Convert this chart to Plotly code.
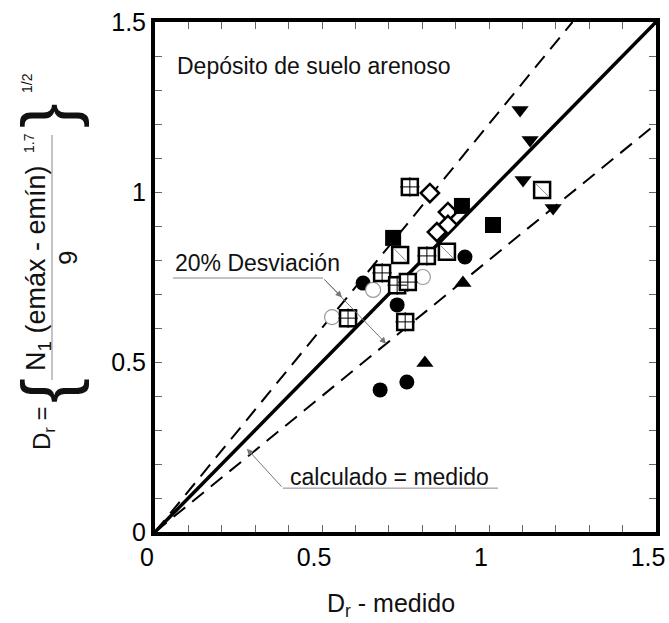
import plotly.graph_objects as go

# ---- measured vs. calculated relative density (Dr) ----
grid_sq_x = [0.763, 0.814, 0.680, 0.725, 0.757, 0.749, 0.578]
grid_sq_y = [1.015, 0.812, 0.762, 0.726, 0.735, 0.618, 0.629]

slash_sq_x = [0.734, 0.874, 1.159]
slash_sq_y = [0.815, 0.824, 1.006]

diamond_x = [0.823, 0.877, 0.877, 0.844]
diamond_y = [0.997, 0.941, 0.903, 0.882]

filled_sq_x = [0.919, 0.713, 1.012]
filled_sq_y = [0.959, 0.865, 0.903]

open_circ_x = [0.653, 0.802, 0.530]
open_circ_y = [0.712, 0.750, 0.632]

filled_circ_x = [0.928, 0.623, 0.725, 0.754, 0.674]
filled_circ_y = [0.809, 0.732, 0.668, 0.441, 0.418]

tri_up_x = [0.922, 0.808]
tri_up_y = [0.732, 0.497]

tri_down_x = [1.093, 1.123, 1.102, 1.192]
tri_down_y = [1.241, 1.153, 1.035, 0.953]

# reference lines: calculated = measured, and +/-20 % deviation
line_x = [0.0, 1.5]
line_y = [0.0, 1.5]
upper_x = [0.0, 1.25]
upper_y = [0.0, 1.5]
lower_x = [0.0, 1.5]
lower_y = [0.0, 1.2]

FONT = "Liberation Sans, Arial, sans-serif"

fig = go.Figure()

fig.add_trace(go.Scatter(x=upper_x, y=upper_y, mode="lines",
                         line=dict(color="black", width=2, dash="15px,9px")))
fig.add_trace(go.Scatter(x=lower_x, y=lower_y, mode="lines",
                         line=dict(color="black", width=2, dash="15px,9px")))
fig.add_trace(go.Scatter(x=line_x, y=line_y, mode="lines",
                         line=dict(color="black", width=3.5)))

fig.add_trace(go.Scatter(x=filled_circ_x, y=filled_circ_y, mode="markers",
                         marker=dict(symbol="circle", size=15, color="black",
                                     line=dict(width=0))))
fig.add_trace(go.Scatter(x=open_circ_x, y=open_circ_y, mode="markers",
                         marker=dict(symbol="circle", size=15, color="white",
                                     line=dict(width=1.2, color="#999999"))))
# hatched squares: white square with a thin cross inside
fig.add_trace(go.Scatter(x=grid_sq_x, y=grid_sq_y, mode="markers",
                         marker=dict(symbol="square", size=16, color="white",
                                     line=dict(width=2.5, color="black"))))
fig.add_trace(go.Scatter(x=grid_sq_x, y=grid_sq_y, mode="markers",
                         marker=dict(symbol="cross-thin", size=14, color="black",
                                     line=dict(width=1, color="black"))))
# squares with a single diagonal
fig.add_trace(go.Scatter(x=slash_sq_x, y=slash_sq_y, mode="markers",
                         marker=dict(symbol="square", size=16, color="white",
                                     line=dict(width=2.5, color="black"))))
fig.add_trace(go.Scatter(x=slash_sq_x, y=slash_sq_y, mode="markers",
                         marker=dict(symbol="line-nw", size=13, color="#888888",
                                     line=dict(width=1, color="#888888"))))
fig.add_trace(go.Scatter(x=diamond_x, y=diamond_y, mode="markers",
                         marker=dict(symbol="diamond", size=14, color="white",
                                     line=dict(width=2.5, color="black"))))
fig.add_trace(go.Scatter(x=filled_sq_x, y=filled_sq_y, mode="markers",
                         marker=dict(symbol="square", size=16, color="black",
                                     line=dict(width=0))))
fig.add_trace(go.Scatter(x=tri_up_x, y=tri_up_y, mode="markers",
                         marker=dict(symbol="triangle-up", size=15, color="black",
                                     line=dict(width=0))))
fig.add_trace(go.Scatter(x=tri_down_x, y=tri_down_y, mode="markers",
                         marker=dict(symbol="triangle-down", size=15, color="black",
                                     line=dict(width=0))))

axis_common = dict(
    range=[0, 1.5], dtick=0.5, tick0=0,
    showgrid=False, zeroline=False,
    showline=True, linewidth=4, linecolor="black", mirror="allticks",
    ticks="inside", ticklen=7, tickwidth=1, tickcolor="#666666",
    minor=dict(dtick=0.1, ticks="inside", ticklen=7, tickwidth=1, tickcolor="#666666"),
    tickfont=dict(family=FONT, size=25, color="black"),
    tickformat="~g",
    ticklabeloverflow="allow",
    automargin=False,
)

fig.update_layout(
    width=669, height=623,
    margin=dict(l=155, r=13, t=22, b=91),
    paper_bgcolor="white", plot_bgcolor="white",
    showlegend=False,
    xaxis=dict(**axis_common, ticklabelshift=-8),
    yaxis=dict(**axis_common),
    font=dict(family=FONT, color="black"),
)

ann = []
# text labels inside the plot
ann.append(dict(x=0.06, y=1.37, xref="x", yref="y", text="Depósito de suelo arenoso",
                showarrow=False, xanchor="left", yanchor="middle",
                font=dict(size=23, family=FONT, color="#111111")))
ann.append(dict(x=0.054, y=0.790, xref="x", yref="y", text="20% Desviación",
                showarrow=False, xanchor="left", yanchor="middle",
                font=dict(size=23, family=FONT, color="#111111")))
ann.append(dict(x=0.398, y=0.162, xref="x", yref="y", text="calculado = medido",
                showarrow=False, xanchor="left", yanchor="middle",
                font=dict(size=23, family=FONT, color="#111111")))

# leader arrows
for tip in [(0.56, 0.69), (0.692, 0.554)]:
    ann.append(dict(x=tip[0], y=tip[1], ax=0.503, ay=0.747, xref="x", yref="y",
                    axref="x", ayref="y", text="", showarrow=True,
                    arrowhead=2, arrowsize=1.3, arrowwidth=1, arrowcolor="#777777"))
ann.append(dict(x=0.275, y=0.245, ax=0.383, ay=0.129, xref="x", yref="y",
                axref="x", ayref="y", text="", showarrow=True,
                arrowhead=2, arrowsize=1.3, arrowwidth=1, arrowcolor="#777777"))

# x-axis title
ann.append(dict(x=(391 - 155) / 501, y=(532 - 605) / 510, xref="paper", yref="paper",
                text="D<sub>r</sub> - medido", showarrow=False,
                xanchor="center", yanchor="middle",
                font=dict(size=25, family=FONT, color="#111111")))


def px(x):
    return (x - 155) / 501


def py(y):
    return (532 - y) / 510


# y-axis title built from rotated pieces
ytitle = [
    ("D<sub>r</sub> =", 43, 428, 24),
    ("{", 48, 391, 74),
    ("}", 48, 116, 74),
    ("N<sub>1</sub> (emáx - emín)", 38, 268, 27),
    ("9", 68, 258, 26),
    ("1.7", 29, 143, 14),
    ("1/2", 27, 83, 14),
]
for txt, x0, y0, fs in ytitle:
    ann.append(dict(x=px(x0), y=py(y0), xref="paper", yref="paper", text=txt,
                    showarrow=False, textangle=-90, xanchor="center", yanchor="middle",
                    font=dict(size=fs, family=FONT, color="#111111")))

fig.update_layout(annotations=ann)

shapes = [
    # underline of the deviation label
    dict(type="line", xref="x", yref="y", x0=0.054, x1=0.503, y0=0.747, y1=0.747,
         line=dict(color="#888888", width=1)),
    # underline of the equality label
    dict(type="line", xref="x", yref="y", x0=0.383, x1=1.027, y0=0.129, y1=0.129,
         line=dict(color="#888888", width=1)),
    # fraction bar in the y title
    dict(type="line", xref="paper", yref="paper", x0=px(52), x1=px(52),
         y0=py(135), y1=py(380), line=dict(color="#888888", width=1)),
]
fig.update_layout(shapes=shapes)

fig.write_html("out.html")
